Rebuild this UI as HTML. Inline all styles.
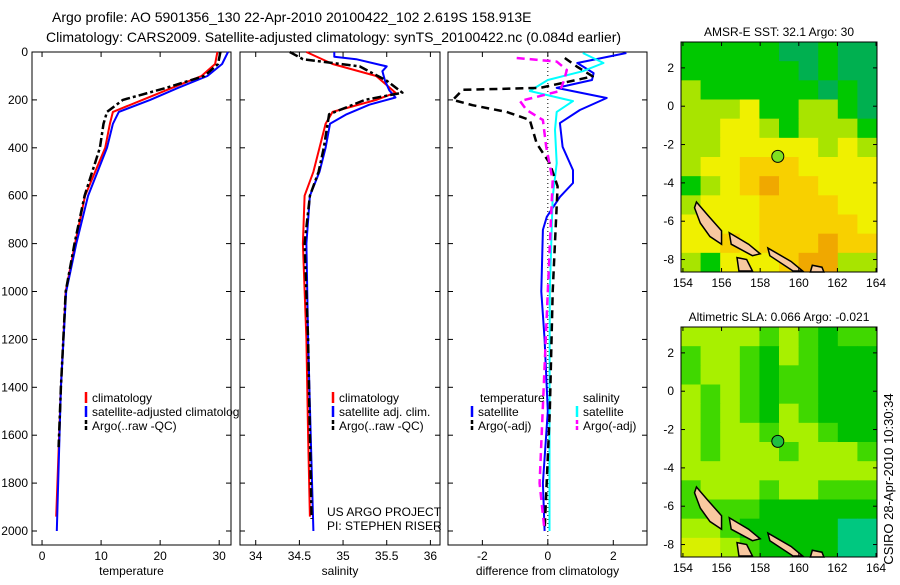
<!DOCTYPE html>
<html><head><meta charset="utf-8"><style>
body{margin:0;background:#fff;width:900px;height:580px;overflow:hidden}
svg{font-family:"Liberation Sans",sans-serif;font-size:12px}
</style></head><body>
<svg id="c" width="900" height="580" viewBox="0 0 900 580" xmlns="http://www.w3.org/2000/svg">
<text x="52" y="22" font-size="14">Argo profile: AO 5901356_130 22-Apr-2010 20100422_102 2.619S 158.913E</text>
<text x="46" y="42" font-size="14">Climatology: CARS2009. Satellite-adjusted climatology: synTS_20100422.nc (0.084d earlier)</text>
<text x="884" y="470" font-size="13" transform="rotate(-90 893 470)" text-anchor="middle">CSIRO 28-Apr-2010 10:30:34</text>
</svg>
<script>
// ---------- data ----------
const depthTicks=[0,200,400,600,800,1000,1200,1400,1600,1800,2000];
const tempTicks=[0,10,20,30];
const salTicks=[34,34.5,35,35.5,36];
const diffTicks=[-2,0,2];
const tClimD=[0,50,100,150,200,250,300,400,600,800,1000,1400,1940];
const tClimV=[29.7,29.3,27,22,17,12,11.5,10.7,7.3,5.6,4,3.2,2.4];
const tSatD=[0,50,100,150,200,250,300,400,600,800,1000,1400,2000];
const tSatV=[31.5,30.5,28,23,18.3,13,12,11,7.8,5.8,4.1,3.2,2.5];
const tArgD=[0,50,100,150,200,250,300,400,600,800,1000,1400,1650];
const tArgV=[30.2,29.8,27.5,21,13.7,11,10.4,9.8,7.2,5.5,4,3.2,2.8];
const sClimD=[0,50,100,170,200,250,300,400,500,600,800,1200,1600,1940];
const sClimV=[34.58,34.88,35.38,35.6,35.38,34.88,34.8,34.73,34.66,34.56,34.54,34.58,34.6,34.62];
const sSatD=[0,20,30,60,80,120,160,190,220,260,300,400,500,600,800,1200,1600,2000];
const sSatV=[34.9,34.9,35.15,35.5,35.45,35.48,35.53,35.6,35.3,35.04,34.85,34.8,34.73,34.62,34.58,34.6,34.63,34.66];
const sArgD=[0,30,60,120,170,200,260,400,500,600,800,1200,1600,1950];
const sArgV=[34.39,34.54,35.19,35.5,35.68,35.25,34.84,34.78,34.72,34.62,34.56,34.6,34.62,34.64];
const dTSatD=[4,46,88,117,150,192,242,297,396,493,547,605,688,743,1000,1200,1500,1800,2000];
const dTSatV=[2.4,0.9,1.4,1.35,0.27,1.8,0.98,0.37,0.45,0.77,0.77,0.37,-0.03,-0.15,-0.2,-0.1,0,-0.15,-0.1];
const dSSatD=[4,46,80,117,163,205,250,325,464,605,1000,1500,2000];
const dSSatV=[1.07,1.7,1.07,0,-0.55,0.77,0.27,0.22,0.27,0.15,0.06,0.05,0.05];
const dTArgD=[25,60,102,150,158,200,222,250,284,382,465,561,1000,1500,2000];
const dTArgV=[0.52,0.88,1.37,-0.24,-2.6,-2.9,-2.3,-1.26,-0.55,-0.34,0.06,0.3,0.15,0.06,-0.1];
const dSArgD=[25,40,75,117,163,205,242,284,396,536,1000,1800,2000];
const dSArgV=[-0.95,0.27,0.58,0.5,0.37,-0.85,-0.65,-0.15,-0.05,0.15,0,-0.25,-0.1];
const lonTicks=[154,156,158,160,162,164];
const latTicks=[2,0,-2,-4,-6,-8];
const sstGrid=[
[1,1,1,1,1,0,0,1,0,0],[1,1,1,1,1,1,0,1,0,0],[2,1,1,1,1,1,1,0,1,0],[2,2,2,3,1,1,2,2,1,0],
[2,2,3,3,2,1,2,2,2,1],[2,2,3,3,3,3,3,2,3,2],[2,3,3,4,4,4,3,3,3,3],[1,2,3,4,5,4,4,3,3,3],
[2,3,3,3,4,4,4,4,3,3],[3,3,3,3,4,4,4,4,4,3],[3,3,4,3,4,4,4,5,4,4],[2,1,3,3,3,4,5,5,2,2]];
const slaGrid=[
[3,3,3,3,2,3,2,1,2,2],[2,3,3,2,1,3,2,1,1,1],[2,3,3,2,1,2,2,1,1,1],[3,2,3,2,1,2,2,1,1,1],
[3,2,3,2,1,3,2,1,1,1],[3,2,3,3,2,3,3,2,1,1],[3,2,3,3,3,2,3,3,3,2],[3,3,3,3,3,3,3,3,3,3],
[2,3,3,3,2,3,3,2,2,2],[2,2,2,2,1,1,1,1,1,1],[3,3,2,1,1,1,1,1,0,0],[4,4,3,2,1,1,1,1,0,0]];
const floatLon=158.913, floatLat=-2.619;
// ---------- drawing ----------
const svg=document.getElementById('c');const NS='http://www.w3.org/2000/svg';
function el(t,a,p){const e=document.createElementNS(NS,t);for(const k in a)e.setAttribute(k,a[k]);(p||svg).appendChild(e);return e;}
function txt(x,y,s,anchor,p){const e=el('text',{x:x,y:y,'text-anchor':anchor||'start'},p);e.textContent=s;return e;}
const Y0=52,PY=0.2395,YB=545;
const yD=d=>Y0+d*PY;
function panel(name,x0,x1,xmin,xmax,xt,label,showY){
  const sx=v=>x0+(v-xmin)/(xmax-xmin)*(x1-x0);
  const g=el('g',{});
  
  
  el('rect',{x:x0,y:Y0,width:x1-x0,height:YB-Y0,fill:'#fff',stroke:'#000'},g);
  depthTicks.forEach(d=>{el('line',{x1:x0,x2:x0+5,y1:yD(d),y2:yD(d),stroke:'#000'},g);el('line',{x1:x1,x2:x1-5,y1:yD(d),y2:yD(d),stroke:'#000'},g);
    if(showY){const t=txt(x0-4,yD(d)+4,String(d),'end',g);}});
  xt.forEach(v=>{el('line',{x1:sx(v),x2:sx(v),y1:YB,y2:YB-5,stroke:'#000'},g);el('line',{x1:sx(v),x2:sx(v),y1:Y0,y2:Y0+5,stroke:'#000'},g);
    const t=txt(sx(v),560,String(v),'middle',g);});
  const l=txt((x0+x1)/2,575,label,'middle',g);
  return {g,sx};
}
function series(p,D,V,color,w,dash,name){
  const pts=D.map((d,i)=>p.sx(V[i]).toFixed(1)+','+yD(d).toFixed(1)).join(' ');
  const e=el('polyline',{points:pts,fill:'none',stroke:color,'stroke-width':w,'stroke-dasharray':dash||'none','stroke-linejoin':'round'},p.g);
  
  
}
function legend(p,x,y,color,dash,label,name){
  const e=el('line',{x1:x,x2:x,y1:y-10,y2:y+1,stroke:color,'stroke-width':2.5,'stroke-dasharray':dash||'none'},p.g);
  
  
  if(label){const t=txt(x+6,y,label,'start',p.g);}
}
const P1=panel('temperature-panel',32,231,-1.7,32,tempTicks,'temperature',true);
series(P1,tClimD,tClimV,'#f00',2,null,'temp-climatology-line');
series(P1,tSatD,tSatV,'#00f',2,null,'temp-satellite-line');
series(P1,tArgD,tArgV,'#000',2.5,'9,3,3,3','temp-argo-line');
const P2=panel('salinity-panel',240,440,33.82,36.11,salTicks,'salinity',false);
series(P2,sClimD,sClimV,'#f00',2,null,'sal-climatology-line');
series(P2,sSatD,sSatV,'#00f',2,null,'sal-satellite-line');
series(P2,sArgD,sArgV,'#000',2.5,'9,3,3,3','sal-argo-line');
const P3=panel('difference-panel',448,647,-3.05,3.03,diffTicks,'difference from climatology',false);
el('line',{x1:P3.sx(0),x2:P3.sx(0),y1:55,y2:YB,stroke:'#000','stroke-dasharray':'1,3'},P3.g);
series(P3,dTSatD,dTSatV,'#00f',2,null,'diff-temp-satellite-line');
series(P3,dSSatD,dSSatV,'#0ff',2,null,'diff-sal-satellite-line');
series(P3,dTArgD,dTArgV,'#000',2.5,'8,5','diff-temp-argo-line');
series(P3,dSArgD,dSArgV,'#f0f',2.5,'8,5','diff-sal-argo-line');
// legends
legend(P1,86,402,'#f00',null,'climatology','legend-climatology');
legend(P1,86,416,'#00f',null,'satellite-adjusted climatology','legend-satellite');
legend(P1,86,430,'#000','4,2','Argo(..raw -QC)','legend-argo');
svg.appendChild(P2.g);svg.appendChild(P3.g);
legend(P2,333,402,'#f00',null,'climatology','legend2-climatology');
legend(P2,333,416,'#00f',null,'satellite adj. clim.','legend2-satellite');
legend(P2,333,430,'#000','4,2','Argo(..raw -QC)','legend2-argo');
[['US ARGO PROJECT',516],['PI: STEPHEN RISER',530]].forEach(a=>{const t=txt(327,a[1],a[0],'start',P2.g);});
{const t=txt(480,402,'temperature','start',P3.g);
const u=txt(583,402,'salinity','start',P3.g);}
legend(P3,472,416,'#00f',null,'satellite','legend3-temp-satellite');
legend(P3,472,430,'#000','4,2','Argo(-adj)','legend3-temp-argo');
legend(P3,577,416,'#0ff',null,'satellite','legend3-sal-satellite');
legend(P3,577,430,'#f0f','4,2','Argo(-adj)','legend3-sal-argo');
// maps
const sstCols=['#00b050','#00c800','#a8e400','#f0f000','#f8d000','#f0a800'];
const slaCols=['#00c880','#00c000','#40d800','#a8f000','#d8f000'];
function map(name,top,bottom,title,grid,cols,dotColor){
  const x0=681,x1=877,lonMin=153.9,lonMax=164.05,latMax=3.35,latMin=-8.65;
  const sx=v=>x0+(v-lonMin)/(lonMax-lonMin)*(x1-x0);
  const sy=v=>top+(latMax-v)/(latMax-latMin)*(bottom-top);
  const g=el('g',{});
  
  
  const rows=grid.length,ncol=grid[0].length;
  grid.forEach((row,r)=>row.forEach((v,c)=>{
    const lo=lonMin+c*(lonMax-lonMin)/ncol,la=latMax-r*(latMax-latMin)/rows;
    const e=el('rect',{x:sx(lo),y:sy(la),width:(x1-x0)/ncol+0.5,height:(bottom-top)/rows+0.5,fill:cols[v]},g);
    
    
  }));
  const isl=[[[154.7,-5],[155.3,-5.7],[156,-6.5],[156,-7.2],[155.4,-6.8],[154.9,-6.1],[154.6,-5.3]],
   [[156.4,-6.6],[157.4,-7.2],[158,-7.7],[157.6,-7.8],[156.5,-7.2]],
   [[158.4,-7.4],[159.6,-8.1],[160.2,-8.6],[159.7,-8.6],[158.5,-7.8]],
   [[156.8,-7.9],[157.3,-8],[157.6,-8.6],[156.9,-8.6]],[[160.7,-8.3],[161.2,-8.4],[161.3,-8.65],[160.6,-8.65]]];
  isl.forEach(poly=>{const e=el('polygon',{points:poly.map(p=>sx(p[0])+','+sy(p[1])).join(' '),fill:'#f8c8a0',stroke:'#000','stroke-width':1.5},g);
    });
  el('rect',{x:x0,y:top,width:x1-x0,height:bottom-top,fill:'none',stroke:'#000'},g);
  lonTicks.forEach(v=>{el('line',{x1:sx(v),x2:sx(v),y1:bottom,y2:bottom-4,stroke:'#000'},g);el('line',{x1:sx(v),x2:sx(v),y1:top,y2:top+4,stroke:'#000'},g);
    const t=txt(sx(v),bottom+15,String(v),'middle',g);});
  latTicks.forEach(v=>{el('line',{x1:x0,x2:x0+4,y1:sy(v),y2:sy(v),stroke:'#000'},g);el('line',{x1:x1,x2:x1-4,y1:sy(v),y2:sy(v),stroke:'#000'},g);
    const t=txt(x0-7,sy(v)+4,String(v),'end',g);});
  const d=el('circle',{cx:sx(floatLon),cy:sy(floatLat),r:6,fill:dotColor,stroke:'#000'},g);
  
  
  const t=txt((x0+x1)/2,top-6,title,'middle',g);
}
map('sst-map',42,272,'AMSR-E SST: 32.1 Argo: 30',sstGrid,sstCols,'#80e020');
map('sla-map',327,557,'Altimetric SLA: 0.066 Argo: -0.021',slaGrid,slaCols,'#20c040');
</script>
</body></html>
